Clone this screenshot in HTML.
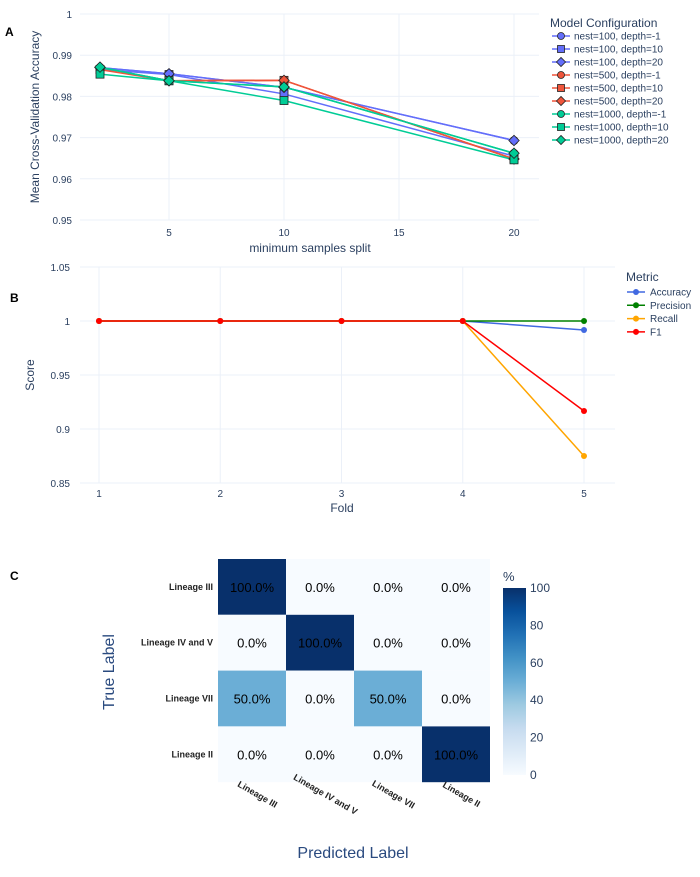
<!DOCTYPE html>
<html><head><meta charset="utf-8"><style>
body{margin:0;background:#fff;font-family:"Liberation Sans",sans-serif}
svg text{font-family:"Liberation Sans",sans-serif}
</style></head><body>
<svg id="s" width="700" height="872" xmlns="http://www.w3.org/2000/svg"></svg>
<script>
// Panel A data
const aX=[2,5,10,20];
const aNames=["nest=100, depth=-1","nest=100, depth=10","nest=100, depth=20","nest=500, depth=-1","nest=500, depth=10","nest=500, depth=20","nest=1000, depth=-1","nest=1000, depth=10","nest=1000, depth=20"];
const aS1=[0.987,0.9855,0.9822,0.9693];
const aS2=[0.9865,0.9853,0.9806,0.9655];
const aS3=[0.987,0.9855,0.9822,0.9693];
const aS4=[0.987,0.9838,0.9839,0.9648];
const aS5=[0.9865,0.9838,0.9839,0.9648];
const aS6=[0.987,0.9838,0.9839,0.9648];
const aS7=[0.987,0.9838,0.9823,0.9662];
const aS8=[0.9854,0.9838,0.979,0.9646];
const aS9=[0.9871,0.9838,0.9823,0.9662];
const aYTicks=[0.95,0.96,0.97,0.98,0.99,1];
const aXTicks=[5,10,15,20];
// Panel B data
const bX=[1,2,3,4,5];
const bNames=["Accuracy","Precision","Recall","F1"];
const bAcc=[1,1,1,1,0.9917];
const bPrec=[1,1,1,1,1];
const bRec=[1,1,1,1,0.875];
const bF1=[1,1,1,1,0.9167];
const bYTicks=[0.85,0.9,0.95,1,1.05];
// Panel C data
const cLabels=["Lineage III","Lineage IV and V","Lineage VII","Lineage II"];
const cVals=[[100,0,0,0],[0,100,0,0],[50,0,50,0],[0,0,0,100]];
const cTicks=[0,20,40,60,80,100];

const S=document.getElementById('s');const NS="http://www.w3.org/2000/svg";
function el(t,a,txt,p){const e=document.createElementNS(NS,t);for(const k in a)e.setAttribute(k,a[k]);if(txt!=null)e.textContent=txt;(p||S).appendChild(e);return e;}
const tc="#2a3f5f",gc="#ebf0f8";

// ---- Panel A
const ax=v=>100+(v-2)*23, ay=v=>220-(v-0.95)*4120;
el('text',{x:5,y:36,'font-size':12,'font-weight':'bold',fill:'#000',},'A');
aYTicks.forEach(t=>{el('line',{x1:80,x2:539,y1:ay(t),y2:ay(t),stroke:gc,});
el('text',{x:72,y:ay(t)+4,'text-anchor':'end','font-size':10,fill:tc,},String(t));});
aXTicks.forEach(t=>{el('line',{x1:ax(t),x2:ax(t),y1:14,y2:220,stroke:gc,});
el('text',{x:ax(t),y:236,'text-anchor':'middle','font-size':10,fill:tc,},String(t));});
el('text',{x:39,y:117,'text-anchor':'middle','font-size':12,fill:tc,transform:'rotate(-90 39 117)',},'Mean Cross-Validation Accuracy');
el('text',{x:310,y:252,'text-anchor':'middle','font-size':12,fill:tc,},'minimum samples split');
const aSeries=[aS1,aS2,aS3,aS4,aS5,aS6,aS7,aS8,aS9];
const aCol=["#636efa","#636efa","#636efa","#ef553b","#ef553b","#ef553b","#00cc96","#00cc96","#00cc96"];
const aSym=["c","s","d","c","s","d","c","s","d"];
function marker(t,x,y,r,fill,name){
 if(t=="c")return el('circle',{cx:x,cy:y,r:r,fill:fill,stroke:'#222','stroke-width':0.8,});
 if(t=="s")return el('rect',{x:x-r,y:y-r,width:2*r,height:2*r,fill:fill,stroke:'#222','stroke-width':0.8,});
 return el('path',{d:`M${x} ${y-r*1.3}L${x+r*1.3} ${y}L${x} ${y+r*1.3}L${x-r*1.3} ${y}Z`,fill:fill,stroke:'#222','stroke-width':0.8,});
}
aSeries.forEach((s,i)=>{el('polyline',{points:s.map((v,j)=>ax(aX[j])+','+ay(v)).join(' '),fill:'none',stroke:aCol[i],'stroke-width':1.5,});});
aSeries.forEach((s,i)=>{s.forEach((v,j)=>marker(aSym[i],ax(aX[j]),ay(v),4,aCol[i],'a-point'));});
el('text',{x:550,y:27,'font-size':12,fill:tc,},'Model Configuration');
aNames.forEach((n,i)=>{const y=36+i*13;
el('line',{x1:552,x2:570,y1:y,y2:y,stroke:aCol[i],'stroke-width':1.5,});
marker(aSym[i],561,y,3.5,aCol[i],'a-legend-marker');
el('text',{x:574,y:y+3.5,'font-size':10,fill:tc,},n);});

// ---- Panel B
const bx=v=>99+(v-1)*121.25, by=v=>483-(v-0.85)*1080;
el('text',{x:10,y:302,'font-size':12,'font-weight':'bold',fill:'#000',},'B');
bYTicks.forEach(t=>{el('line',{x1:80,x2:615,y1:by(t),y2:by(t),stroke:gc,});
el('text',{x:70,y:by(t)+4,'text-anchor':'end','font-size':10,fill:tc,},String(t));});
bX.forEach(t=>{el('line',{x1:bx(t),x2:bx(t),y1:267,y2:483,stroke:gc,});
el('text',{x:bx(t),y:497,'text-anchor':'middle','font-size':10,fill:tc,},String(t));});
el('text',{x:34,y:375,'text-anchor':'middle','font-size':12,fill:tc,transform:'rotate(-90 34 375)',},'Score');
el('text',{x:342,y:512,'text-anchor':'middle','font-size':12,fill:tc,},'Fold');
const bSeries=[bAcc,bPrec,bRec,bF1];const bCol=["#4169e1","#008000","#ffa500","#ff0000"];
bSeries.forEach((s,i)=>{el('polyline',{points:s.map((v,j)=>bx(bX[j])+','+by(v)).join(' '),fill:'none',stroke:bCol[i],'stroke-width':1.5,});
s.forEach((v,j)=>el('circle',{cx:bx(bX[j]),cy:by(v),r:3,fill:bCol[i],}));});
el('text',{x:626,y:281,'font-size':12,fill:tc,},'Metric');
bNames.forEach((n,i)=>{const y=292+i*13.3;
el('line',{x1:627,x2:645,y1:y,y2:y,stroke:bCol[i],'stroke-width':1.5,});
el('circle',{cx:636,cy:y,r:3,fill:bCol[i],});
el('text',{x:650,y:y+3.5,'font-size':10,fill:tc,},n);});

// ---- Panel C
el('text',{x:10,y:580,'font-size':12,'font-weight':'bold',fill:'#000',},'C');
function blues(v){const st=[[0,[247,251,255]],[0.125,[222,235,247]],[0.25,[198,219,239]],[0.375,[158,202,225]],[0.5,[107,174,214]],[0.625,[66,146,198]],[0.75,[33,113,181]],[0.875,[8,81,156]],[1,[8,48,107]]];
 v=Math.max(0,Math.min(1,v));for(let i=1;i<st.length;i++){if(v<=st[i][0]){const a=st[i-1],b=st[i],f=(v-a[0])/(b[0]-a[0]);return 'rgb('+a[1].map((c,k)=>Math.round(c+(b[1][k]-c)*f)).join(',')+')';}}return 'rgb(8,48,107)';}
const cx0=218,cw=68,cy0=559,ch=55.8;
cVals.forEach((row,r)=>row.forEach((v,c)=>{
el('rect',{x:cx0+c*cw,y:cy0+r*ch,width:cw,height:ch,fill:blues(v/100),});
el('text',{x:cx0+c*cw+cw/2,y:cy0+r*ch+ch/2+5,'text-anchor':'middle','font-size':13,fill:'#000',},v.toFixed(1)+'%');}));
cLabels.forEach((l,i)=>{
el('text',{x:213,y:cy0+i*ch+ch/2+3,'text-anchor':'end','font-size':9,'font-weight':'bold',fill:'#222',},l);
const x=cx0+i*cw+cw/2+4,y=797;
el('text',{x:x,y:y,'text-anchor':'middle','font-size':9,'font-weight':'bold',fill:'#222',transform:`rotate(30 ${x} ${y})`,},l);});
el('text',{x:114,y:672,'text-anchor':'middle','font-size':16,fill:'#2a4a7f',transform:'rotate(-90 114 672)',},'True Label');
el('text',{x:353,y:858,'text-anchor':'middle','font-size':16,fill:'#2a4a7f',},'Predicted Label');
const defs=el('defs',{});const g=el('linearGradient',{id:'cb',x1:0,y1:1,x2:0,y2:0},null,defs);
for(let i=0;i<=8;i++)el('stop',{offset:i/8,'stop-color':blues(i/8)},null,g);
const cbTop=588,cbBot=775;
el('rect',{x:503,y:cbTop,width:23,height:cbBot-cbTop,fill:'url(#cb)',});
el('text',{x:503,y:581,'font-size':13,fill:tc,},'%');
cTicks.forEach(t=>{const y=cbBot-(t/100)*(cbBot-cbTop);
el('text',{x:530,y:y+4,'font-size':12,fill:tc,},String(t));});
</script>
</body></html>
